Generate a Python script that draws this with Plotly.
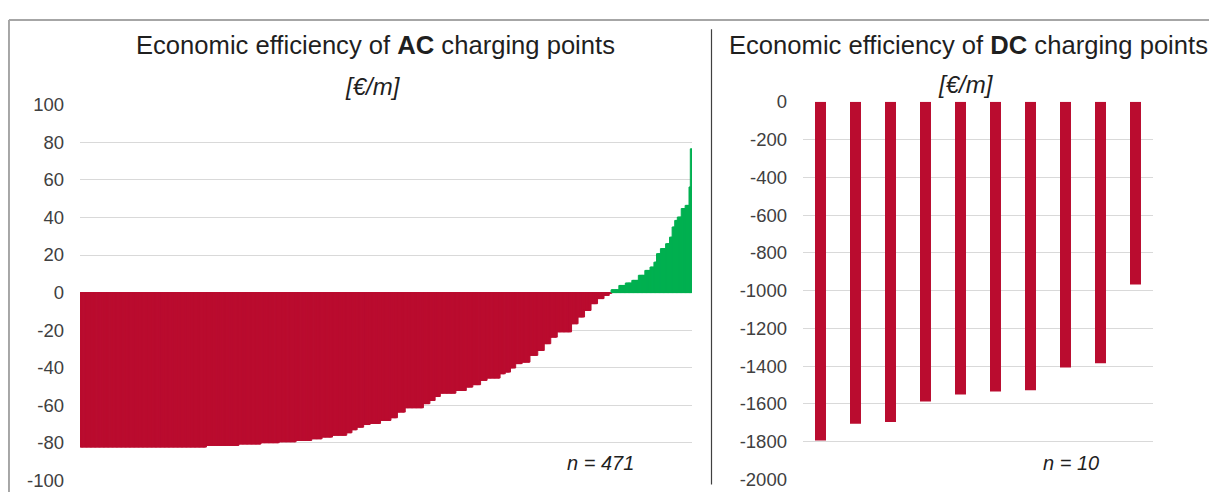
import numpy as np
import plotly.graph_objects as go

# ---- data ----
# AC charging points (n = 471), sorted ascending; step levels [€/m] and how many points sit at each level
ac_levels = [-82.2, -81.3, -80.6, -79.9, -79.4, -78.7, -77.8, -76.9, -75.9, -74.6,
             -73.0, -71.6, -70.2, -69.6, -68.0, -66.6, -63.6, -61.3, -59.1, -57.4,
             -55.3, -53.5, -52.1, -50.3, -49.0, -46.7, -45.5, -43.2, -42.3, -40.1,
             -37.8, -37.0, -33.4, -30.8, -27.2, -23.7, -20.9, -16.6, -13.0, -9.5,
             -5.9, -3.2, -1.5, -0.4, 1.5, 3.8, 5.1, 6.5, 9.2, 11.8,
             13.6, 16.2, 20.7, 23.4, 26.0, 29.5, 34.9, 38.4, 40.2, 44.7,
             46.4, 56.2, 76.5]
ac_counts = [97, 25, 17, 14, 13, 12, 8, 8, 11, 4,
             4, 5, 5, 8, 8, 5, 6, 14, 5, 4,
             4, 12, 8, 5, 6, 5, 10, 4, 4, 4,
             5, 6, 6, 5, 5, 5, 11, 5, 5, 5,
             5, 5, 4, 2, 6, 5, 5, 5, 5, 4,
             3, 2, 3, 4, 3, 2, 2, 2, 3, 3,
             3, 1, 1]

# DC charging points (n = 10)
dc_points = ["1", "2", "3", "4", "5", "6", "7", "8", "9", "10"]
dc_values = [-1793, -1705, -1696, -1587, -1550, -1534, -1527, -1407, -1384, -967]

ac_ticks = [100, 80, 60, 40, 20, 0, -20, -40, -60, -80, -100]
dc_ticks = [0, -200, -400, -600, -800, -1000, -1200, -1400, -1600, -1800, -2000]

# ---- figure ----
W, H = 1201, 494
X_OFF = 8.0      # observed horizontal offset of the figure in the photographed page
Y_OFF = 18.7     # observed vertical offset
Y_SCALE = 0.957  # observed vertical scale
RED = "#BA0C2F"
GREEN = "#00B050"
GRID = "#D9D9D9"
TICK = "#404040"
TXT = "#1F1F1F"
FONT = "Liberation Sans, Arial, sans-serif"

ac_values = np.repeat(ac_levels, ac_counts)
ac_index = np.arange(len(ac_values))
ac_colors = [GREEN if v > 0 else RED for v in ac_values]

fig = go.Figure()
fig.add_trace(go.Bar(
    x=ac_index, y=ac_values, width=1.6,
    marker=dict(color=ac_colors, line=dict(color=ac_colors, width=1.0)),
    xaxis="x", yaxis="y", hoverinfo="y"))
fig.add_trace(go.Bar(
    x=dc_points, y=dc_values, width=0.314,
    marker=dict(color=RED, line=dict(width=0)),
    xaxis="x2", yaxis="y2", hoverinfo="y"))


def px_x(p):
    """target picture x -> paper fraction"""
    return (p - X_OFF) / W


def px_y(p):
    """target picture y -> paper fraction"""
    return 1 - ((p - Y_OFF) / Y_SCALE) / H


yaxis_common = dict(
    showgrid=True, gridcolor=GRID, gridwidth=1, zeroline=False,
    showline=False, ticks="", tickmode="array",
    tickfont=dict(family=FONT, size=18.5, color=TICK),
    ticklabelstandoff=15,
)

fig.update_layout(
    width=W, height=H,
    margin=dict(l=0, r=0, t=0, b=0),
    paper_bgcolor="white", plot_bgcolor="white",
    showlegend=False,
    font=dict(family=FONT, color=TXT),
    xaxis=dict(domain=[px_x(80), px_x(692)], range=[-0.5, len(ac_values) - 0.5],
               showgrid=False, zeroline=False, showticklabels=False, ticks="",
               anchor="y"),
    yaxis=dict(domain=[px_y(480), px_y(104.3)], range=[-100, 100],
               tickvals=ac_ticks, ticktext=[str(t) for t in ac_ticks],
               anchor="x", **yaxis_common),
    xaxis2=dict(domain=[px_x(803), px_x(1153)], type="category",
                range=[-0.5, len(dc_points) - 0.5],
                showgrid=False, zeroline=False, showticklabels=False, ticks="",
                anchor="y2"),
    yaxis2=dict(domain=[px_y(479), px_y(101.5)], range=[-2000, 0],
                tickvals=dc_ticks, ticktext=[str(t) for t in dc_ticks],
                anchor="x2", **yaxis_common),
)

ann = [
    dict(x=px_x(375), y=px_y(45), text="Economic efficiency of <b>AC</b> charging points",
         font=dict(size=25.6, color=TXT)),
    dict(x=px_x(373), y=px_y(86), text="<i>[€/m]</i>", font=dict(size=24, color=TXT)),
    dict(x=px_x(968), y=px_y(45), text="Economic efficiency of <b>DC</b> charging points",
         font=dict(size=25.6, color=TXT)),
    dict(x=px_x(966), y=px_y(84), text="<i>[€/m]</i>", font=dict(size=24, color=TXT)),
    dict(x=px_x(600), y=px_y(462), text="<i>n = 471</i>", font=dict(size=20, color=TXT)),
    dict(x=px_x(1071), y=px_y(462), text="<i>n = 10</i>", font=dict(size=20, color=TXT)),
]
for a in ann:
    a.update(xref="paper", yref="paper", showarrow=False, xanchor="center", yanchor="middle")
fig.update_layout(annotations=ann)

fig.update_layout(shapes=[
    # outer frame (top and left edges visible)
    dict(type="line", xref="paper", yref="paper", x0=0.0008, x1=1, y0=0.998, y1=0.998,
         line=dict(color="#A6A6A6", width=2)),
    dict(type="line", xref="paper", yref="paper", x0=0.0008, x1=0.0008, y0=0, y1=0.998,
         line=dict(color="#A6A6A6", width=2)),
    # divider between the two panels
    dict(type="line", xref="paper", yref="paper", x0=px_x(711.5), x1=px_x(711.5),
         y0=px_y(484), y1=px_y(29), line=dict(color="#404040", width=1.2)),
])

fig.write_html("out.html")
